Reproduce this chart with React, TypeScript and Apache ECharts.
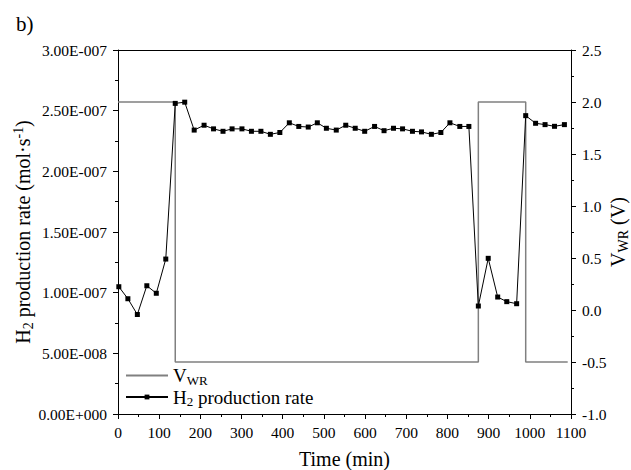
import React, { useEffect, useRef } from "react";
import * as echarts from "echarts";

// H2 production rate (mol/s) vs time (min)
const h2Times = [
  2, 24, 47, 70, 93, 116, 139, 162, 185, 209, 232, 255, 277, 301, 324, 347, 370, 393, 416, 439,
  462, 484, 506, 530, 553, 576, 599, 623, 646, 669, 691, 715, 737, 761, 784, 806, 830, 852,
  875, 899, 922, 944, 968, 990, 1014, 1037, 1060, 1084,
];
const h2Rates = [
  1.049e-7, 0.95e-7, 0.82e-7, 1.057e-7, 0.995e-7, 1.277e-7, 2.56e-7, 2.57e-7, 2.34e-7, 2.38e-7,
  2.35e-7, 2.33e-7, 2.35e-7, 2.35e-7, 2.33e-7, 2.33e-7, 2.305e-7, 2.32e-7, 2.4e-7, 2.37e-7,
  2.365e-7, 2.4e-7, 2.355e-7, 2.34e-7, 2.38e-7, 2.355e-7, 2.33e-7, 2.37e-7, 2.335e-7, 2.355e-7,
  2.35e-7, 2.33e-7, 2.325e-7, 2.305e-7, 2.32e-7, 2.4e-7, 2.37e-7, 2.37e-7,
  0.89e-7, 1.283e-7, 0.964e-7, 0.926e-7, 0.909e-7, 2.459e-7, 2.396e-7, 2.385e-7, 2.371e-7, 2.385e-7,
];

// Working-electrode voltage V_WR (V), step signal
const vwrTimes = [0, 139, 875, 990, 1092];
const vwrValues = [2.0, -0.5, 2.0, -0.5, -0.5];

const FONT = "Liberation Serif";

function sci(v: number): string {
  if (v === 0) return "0.00E+000";
  const s = v.toExponential(2);
  const [m, e] = s.split("e");
  const n = parseInt(e, 10);
  const sign = n < 0 ? "-" : "+";
  const abs = String(Math.abs(n)).padStart(3, "0");
  return `${m}E${sign}${abs}`;
}

export default function App() {
  const ref = useRef<HTMLDivElement>(null);
  useEffect(() => {
    if (!ref.current) return;
    const chart = echarts.init(ref.current, null, { renderer: "svg" });
    const richMain = {
      a: { fontSize: 19, lineHeight: 22, fontFamily: FONT, color: "#000", verticalAlign: "middle" },
      b: { fontSize: 13, lineHeight: 13, fontFamily: FONT, color: "#000", verticalAlign: "bottom" },
    };
    const richAxis = {
      n: { fontSize: 20, lineHeight: 24, fontFamily: FONT, color: "#000", verticalAlign: "middle" },
      sb: { fontSize: 14, lineHeight: 14, fontFamily: FONT, color: "#000", verticalAlign: "bottom" },
      sp: { fontSize: 14, lineHeight: 14, fontFamily: FONT, color: "#000", verticalAlign: "top" },
    };
    const label = { show: true, color: "#000", fontSize: 15.5, fontFamily: FONT, margin: 11 };
    const axisCommon = {
      axisLine: { show: true, onZero: false, lineStyle: { color: "#000", width: 1 } },
      axisTick: { show: true, length: 5, lineStyle: { color: "#000", width: 1 } },
      minorTick: { show: true, splitNumber: 2, length: 3, lineStyle: { color: "#000", width: 1 } },
      splitLine: { show: false },
      minorSplitLine: { show: false },
      nameMoveOverlap: false,
    };
    chart.setOption({
      animation: false,
      backgroundColor: "#fff",
      textStyle: { fontFamily: FONT },
      graphic: [
        {
          type: "text",
          left: 16,
          top: 13,
          style: { text: "b)", font: "21px Liberation Serif", fill: "#000" },
        },
      ],
      grid: {
        left: 118,
        right: 60,
        top: 50,
        bottom: 56,
        containLabel: false,
        outerBoundsMode: "none",
      },
      legend: {
        orient: "vertical",
        left: 120,
        top: 361,
        itemWidth: 42,
        itemHeight: 6,
        itemGap: 1,
        selectedMode: false,
        data: [{ name: "VWR", itemStyle: { opacity: 0 } }, { name: "H2 production rate" }],
        formatter: (name: string) =>
          name === "VWR" ? "{a|V}{b|WR}" : "{a|H}{b|2}{a| production rate}",
        textStyle: { rich: richMain },
      },
      xAxis: [
        {
          type: "value",
          min: 0,
          max: 1100,
          interval: 100,
          name: "Time (min)",
          nameLocation: "middle",
          nameGap: 35,
          nameTextStyle: { fontSize: 20, fontFamily: FONT, color: "#000" },
          ...axisCommon,
          axisLabel: { ...label, margin: 10, formatter: (v: number) => String(v) },
        },
        {
          type: "value",
          position: "top",
          min: 0,
          max: 1100,
          axisLine: { show: true, onZero: false, lineStyle: { color: "#000", width: 1 } },
          axisTick: { show: false },
          axisLabel: { show: false },
          splitLine: { show: false },
        },
      ],
      yAxis: [
        {
          type: "value",
          min: 0,
          max: 3e-7,
          interval: 5e-8,
          position: "left",
          name: "{n|H}{sb|2}{n| production rate (mol·s}{sp|-1}{n|)}",
          nameLocation: "middle",
          nameRotate: 90,
          nameGap: 83,
          nameTextStyle: { rich: richAxis },
          ...axisCommon,
          axisLabel: { ...label, formatter: (v: number) => sci(v) },
        },
        {
          type: "value",
          min: -1,
          max: 2.5,
          interval: 0.5,
          position: "right",
          name: "{n|V}{sb|WR}{n| (V)}",
          nameLocation: "middle",
          nameRotate: 90,
          nameGap: 35,
          nameTextStyle: { rich: richAxis },
          ...axisCommon,
          axisLabel: { ...label, formatter: (v: number) => v.toFixed(1) },
        },
      ],
      series: [
        {
          name: "VWR",
          type: "line",
          yAxisIndex: 1,
          step: "end",
          symbol: "none",
          lineStyle: { color: "#808080", width: 1.5 },
          itemStyle: { color: "#808080" },
          data: vwrTimes.map((t, i) => [t, vwrValues[i]]),
          z: 2,
        },
        {
          name: "H2 production rate",
          type: "line",
          yAxisIndex: 0,
          symbol: "rect",
          symbolSize: 5,
          showSymbol: true,
          lineStyle: { color: "#000", width: 1 },
          itemStyle: { color: "#000" },
          data: h2Times.map((t, i) => [t, h2Rates[i]]),
          z: 3,
        },
      ],
    });
    return () => chart.dispose();
  }, []);
  return <div ref={ref} style={{ width: 631, height: 470, position: "absolute", left: 0, top: 0 }} />;
}
